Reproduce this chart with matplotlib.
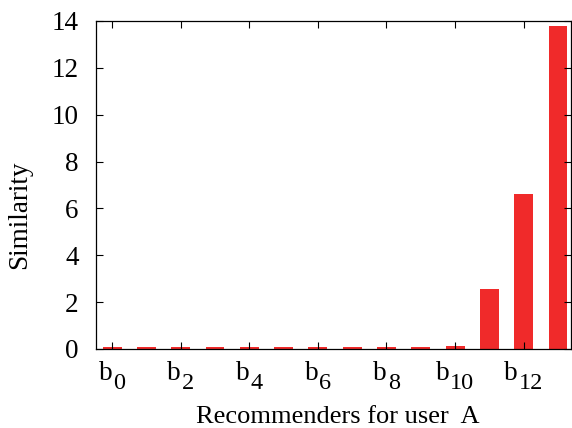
import numpy as np
import matplotlib.pyplot as plt

plt.rcParams['font.family'] = ['Liberation Serif', 'DejaVu Serif']

recommenders = list(range(14))
similarity = [0.08, 0.07, 0.08, 0.07, 0.08, 0.07, 0.08, 0.08, 0.08, 0.08, 0.13, 2.56, 6.63, 13.78]
tick_pos = list(range(0, 14, 2))
sub_labels = [str(i) for i in tick_pos]

W, H = 572, 428
fig = plt.figure(figsize=(W / 100, H / 100), dpi=100)
ax = fig.add_axes([96 / W, 1 - 349 / H, (571 - 96) / W, (349 - 21) / H])

ax.bar(recommenders, similarity, width=0.55, color='#f02a2a')

ax.set_xlim(-0.47, 13.38)
ax.set_ylim(0, 14)
ax.set_yticks(range(0, 15, 2))
ax.set_xticks(tick_pos)
ax.set_xticklabels([])
ax.tick_params(direction='in', length=5, width=0.8, top=True, right=True,
               labelsize=19.5)
ax.tick_params(axis='y', pad=12.5)
for s in ax.spines.values():
    s.set_linewidth(0.9)

# gnuplot-style tick labels: b with a large, lowered subscript
pairs = []
for pos, sub in zip(tick_pos, sub_labels):
    tb = ax.annotate('b', xy=(pos, 0), xycoords=('data', 'axes fraction'),
                     xytext=(0, -31), textcoords='offset pixels',
                     ha='left', va='baseline', fontsize=19.5)
    ts = ax.annotate(sub, xy=(pos, 0), xycoords=('data', 'axes fraction'),
                     xytext=(0, -40), textcoords='offset pixels',
                     ha='left', va='baseline', fontsize=17.5)
    pairs.append((tb, ts))

fig.canvas.draw()
r = fig.canvas.get_renderer()
for tb, ts in pairs:
    wb = tb.get_window_extent(r).width
    ws = ts.get_window_extent(r).width
    total = wb + 1 + ws
    tb.xyann = (-total / 2, -31)
    ts.xyann = (-total / 2 + wb + 1, -40)

fig.text(20 / W, 1 - 215 / H, 'Similarity', rotation=90, ha='center',
         va='center', fontsize=19.5)
fig.text(337.5 / W, 1 - 423 / H, 'Recommenders for user  A', ha='center',
         va='baseline', fontsize=19)

fig.savefig('out.png', dpi=100)
